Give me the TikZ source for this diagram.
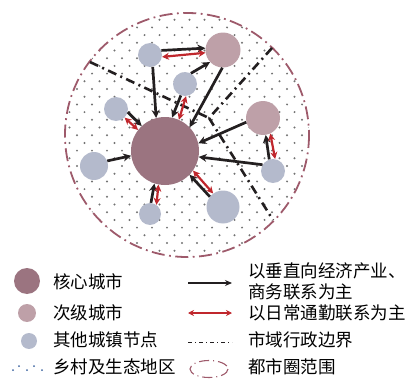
\documentclass[tikz,border=0pt]{standalone}
\usepackage{fontspec}
\setmainfont{Noto Sans CJK SC}
\usetikzlibrary{arrows.meta}
\definecolor{corec}{RGB}{155,116,128}
\definecolor{secc}{RGB}{190,160,168}
\definecolor{othc}{RGB}{180,186,204}
\definecolor{redc}{RGB}{192,39,45}
\definecolor{blkc}{RGB}{35,31,32}
\definecolor{ringc}{RGB}{158,90,107}
\definecolor{dotc}{RGB}{115,115,115}
\definecolor{bluedot}{RGB}{60,100,160}
\tikzset{
  city/.style={circle,inner sep=0pt,draw=none},
  corecity/.style={city,fill=corec,minimum size=#1},
  seccity/.style={city,fill=secc,minimum size=#1},
  othcity/.style={city,fill=othc,minimum size=#1},
  blk/.style={draw=blkc,line width=2.7pt,-{Stealth[length=8pt,width=8pt]}},
  red2/.style={draw=redc,line width=2.2pt,{Stealth[length=7pt,width=7pt]}-{Stealth[length=7pt,width=7pt]}},
  admin/.style={draw=blkc,line width=2.6pt,dash pattern=on 9pt off 4.5pt on 2pt off 4.5pt},
  ring/.style={draw=ringc,line width=1.8pt,dash pattern=on 13pt off 4.5pt on 1.8pt off 4.5pt},
  lbl/.style={anchor=west,inner sep=0pt,font=\fontsize{17.5}{21}\selectfont,align=left}
}
\begin{document}
\begin{tikzpicture}[x=1pt,y=-1pt]
\useasboundingbox (0,0) rectangle (413,380);
% dotted area
\begin{scope}
\clip (187,135) circle (122);
\foreach \j in {0,...,33}{
  \pgfmathsetmacro\yy{12+7.7*\j}
  \pgfmathsetmacro\off{mod(\j,2)*7.5}
  \foreach \i in {0,...,17}{
    \fill[dotc] ({62+\off+15*\i},\yy) circle (1.1);
  }
}
\end{scope}
\draw[ring] (187,135) circle (122);
% admin boundaries
\coordinate (j) at (209,118);
\coordinate (b1) at (90,62);
\coordinate (b2) at (272,48);
\coordinate (b3) at (273,220);
\draw[admin] (b1) -- (j);
\draw[admin] (b2) -- (j);
\draw[admin] (j) -- (b3);
% cities
\node[corecity=68pt] (core) at (165,151) {};
\node[seccity=35pt] (s1) at (223,50) {};
\node[seccity=34pt] (s2) at (263,118) {};
\node[othcity=24pt] (a) at (150,55) {};
\node[othcity=24pt] (b) at (185,84) {};
\node[othcity=24pt] (c) at (116,109) {};
\node[othcity=28pt] (d) at (94,166) {};
\node[othcity=22pt] (e) at (150,214) {};
\node[othcity=33pt] (f) at (223,207) {};
\node[othcity=24pt] (g) at (273,171) {};
% connections
\draw[blk] (a.22) -- (s1.174);
\draw[red2] (a.-9) -- (s1.189);
\draw[blk] (a.-77) -- (core.105);
\draw[blk] (b.61) -- (s1.223);
\draw[blk] (b.250) -- (core.78);
\draw[red2] (b.275) -- (core.66);
\draw[blk] (s1.268) -- (core.44);
\draw[blk] (c.-15) -- (core.133);
\draw[red2] (c.-45) -- (core.142);
\draw[blk] (s2.194) -- (core.13);
\draw[blk] (g.149) -- (core.-10);
\draw[blk] (g.108) -- (s2.-81);
\draw[red2] (s2.-65) -- (g.80);
\draw[blk] (d.21) -- (core.188);
\draw[blk] (e.85) -- (core.252);
\draw[red2] (core.259) -- (e.55);
\draw[blk] (f.142) -- (core.-44);
\draw[red2] (core.-35) -- (f.126);
% legend left
\node[corecity=26pt] (lc) at (27,281) {};
\node[seccity=18pt] (ls) at (27,313) {};
\node[othcity=16pt] (lo) at (29,341) {};
\foreach \x/\y [count=\k] in {13/370,19/366,27/370,34/366,42/370}
  \fill[bluedot] (\x,\y) circle (1);
\node[lbl] (t1) at (53,282) {核心城市};
\node[lbl] (t2) at (53,313) {次级城市};
\node[lbl] (t3) at (53,340) {其他城镇节点};
\node[lbl] (t4) at (53,367) {乡村及生态地区};
% legend right
\coordinate (la1) at (188,283);
\coordinate (la2) at (232,283);
\draw[draw=blkc,line width=2.2pt,-{Stealth[length=7pt,width=6pt]}] (la1) -- (la2);
\coordinate (lr1) at (188,313);
\coordinate (lr2) at (232,313);
\draw[draw=redc,line width=2pt,{Stealth[length=6pt,width=6pt]}-{Stealth[length=6pt,width=6pt]}] (lr1) -- (lr2);
\coordinate (ld1) at (188,342);
\coordinate (ld2) at (232,342);
\draw[draw=blkc,line width=0.9pt,dash pattern=on 4pt off 3pt on 1pt off 3pt] (ld1) -- (ld2);
\draw[draw=ringc,line width=1.1pt,dash pattern=on 10pt off 4pt on 1pt off 4pt] (209,369) ellipse (19 and 8.5);
\node[lbl] (r1) at (248,281) {以垂直向经济产业、\\商务联系为主};
\node[lbl] (r2) at (248,313) {以日常通勤联系为主};
\node[lbl] (r3) at (248,340) {市域行政边界};
\node[lbl] (r4) at (248,367) {都市圈范围};
\end{tikzpicture}
\end{document}
